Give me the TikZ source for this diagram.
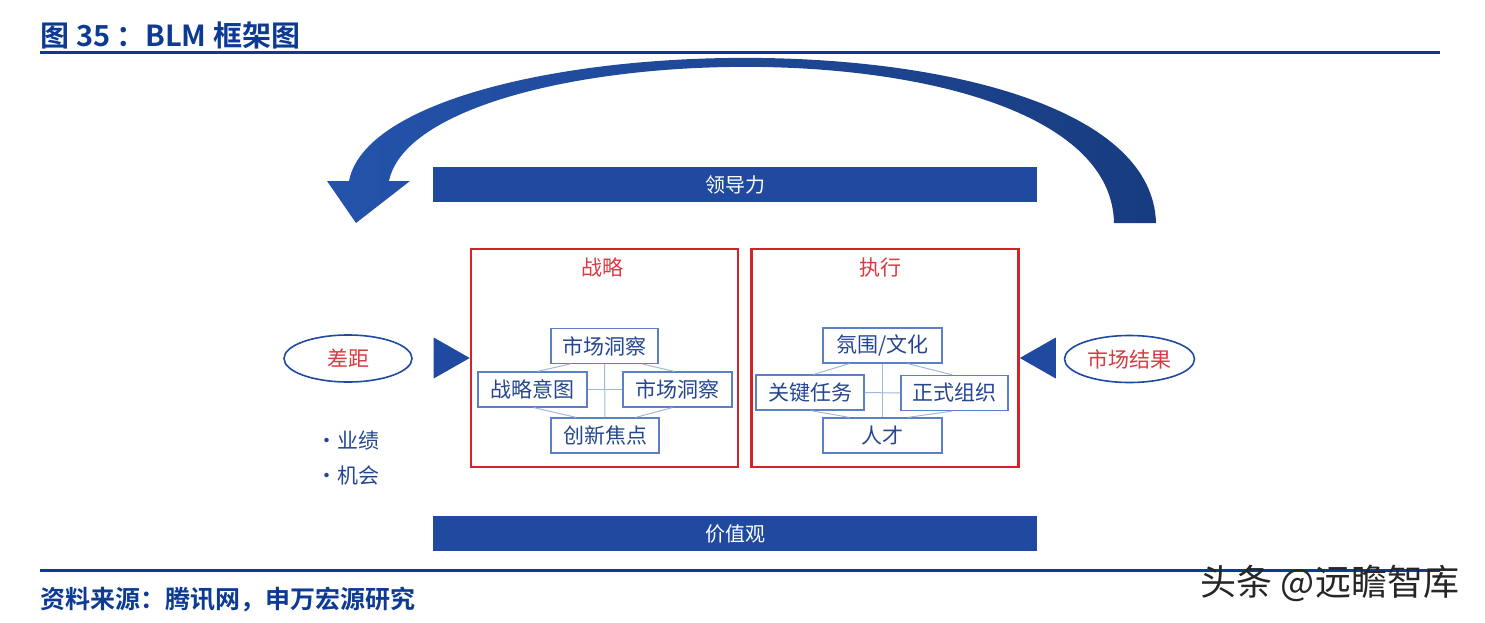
\documentclass[tikz,border=0pt]{standalone}
\usepackage{fontspec}
\setmainfont{Noto Sans CJK SC}[BoldFont={* Bold}]
\usetikzlibrary{positioning, calc, shapes}
\definecolor{titleblue}{HTML}{0D3B94}
\definecolor{barblue}{HTML}{1F4AA0}
\definecolor{arrowl}{HTML}{2453AB}
\definecolor{arrowr}{HTML}{183C80}
\definecolor{boxred}{HTML}{D2232A}
\definecolor{textred}{HTML}{D83A40}
\definecolor{cellblue}{HTML}{5C80C8}
\definecolor{linkblue}{HTML}{A3B6DD}
\definecolor{celltext}{HTML}{25468F}
\tikzset{bar/.style={fill=barblue, minimum width=604pt, minimum height=35pt, inner sep=0pt, text=white, font=\fontsize{20}{20}\selectfont}}
\tikzset{panel/.style={draw=boxred, line width=2.6pt, minimum width=267pt, minimum height=218pt, inner sep=0pt}}
\tikzset{paneltitle/.style={text=textred, font=\fontsize{21}{21}\selectfont}}
\tikzset{cell/.style={draw=cellblue, line width=1.2pt, fill=white, minimum height=35pt, inner sep=0pt, text=celltext, font=\fontsize{21}{21}\selectfont}}
\tikzset{link/.style={draw=linkblue, line width=1pt}}
\tikzset{gap/.style={ellipse, draw=barblue, line width=1.6pt, minimum width=128pt, minimum height=47pt, inner sep=0pt, text=textred, font=\fontsize{21}{21}\selectfont}}
\tikzset{bullet/.style={anchor=west, text=celltext, font=\fontsize{21}{21}\selectfont}}
\tikzset{rule/.style={draw=titleblue, line width=3pt}}
\begin{document}
\begin{tikzpicture}[x=1pt, y=-1pt]
  \useasboundingbox (0,0) rectangle (1485,623);

  \node[anchor=west, text=titleblue, font=\fontsize{29}{29}\selectfont\bfseries] (title) at (37,35) {图 35\hspace{6pt}：BLM 框架图};
  \draw[rule] (40,53) -- (1440,53);
  \draw[rule] (40,570) -- (1440,570);
  \node[anchor=west, text=titleblue, font=\fontsize{25}{25}\selectfont\bfseries] (source) at (37,599) {资料来源：腾讯网，申万宏源研究};

  \shade[left color=arrowl, right color=arrowr]
    (349,181) .. controls (380,20) and (1150,0) .. (1156,223)
    -- (1114,223) .. controls (1110,12) and (420,32) .. (389,181)
    -- (410,181) -- (356,223) -- (327,181) -- cycle;

  \node[bar] (lead) at (735,184.5) {领导力};
  \node[bar] (value) at ($(lead)+(0,349)$) {价值观};

  \node[panel] (strat) at (604.5,358) {};
  \node[panel] (exec) at (885,358) {};
  \node[paneltitle] (strattitle) at ($(strat.north)+(-2,20)$) {战略};
  \node[paneltitle] (exectitle) at ($(exec.north)+(-5,20)$) {执行};

  \node[cell, minimum width=107pt] (s1) at (604.5,346) {市场洞察};
  \node[cell, minimum width=109pt] (s2) at (532.5,389.5) {战略意图};
  \node[cell, minimum width=109pt] (s3) at (677.5,389.5) {市场洞察};
  \node[cell, minimum width=108pt] (s4) at (605,435.5) {创新焦点};
  \draw[link] (s1) -- (s4);
  \draw[link] (s2) -- (s3);
  \draw[link] ($(s1.south west)+(19,0)$) -- ($(s2.north east)+(-50,0)$);
  \draw[link] ($(s1.south east)+(-16,0)$) -- ($(s3.north west)+(52,0)$);
  \draw[link] ($(s2.south east)+(-54,0)$) -- ($(s4.north west)+(26,0)$);
  \draw[link] ($(s3.south west)+(50,0)$) -- ($(s4.north east)+(-24,0)$);

  \node[cell, minimum width=119pt] (e1) at (882.5,345.5) {氛围/文化};
  \node[cell, minimum width=108pt] (e2) at (810,392.5) {关键任务};
  \node[cell, minimum width=107pt] (e3) at (954.5,393) {正式组织};
  \node[cell, minimum width=119pt] (e4) at (882.5,435.5) {人才};
  \draw[link] (e1) -- (e4);
  \draw[link] (e2) -- (e3);
  \draw[link] ($(e1.south west)+(27,0)$) -- ($(e2.north east)+(-51,0)$);
  \draw[link] ($(e1.south east)+(-35,0)$) -- ($(e3.north west)+(52,0)$);
  \draw[link] ($(e2.south east)+(-54,0)$) -- ($(e4.north west)+(27,0)$);
  \draw[link] ($(e3.south west)+(52,0)$) -- ($(e4.north east)+(-35,0)$);

  \fill[barblue] (strat.west) -- ++(-36,-20.5) -- ++(0,41) -- cycle;
  \fill[barblue] (exec.east) -- ++(36,-20.5) -- ++(0,41) -- cycle;

  \node[gap] (gap) at (348,358.5) {差距};
  \node[gap, minimum width=130pt] (result) at (1129.5,359) {市场结果};

  \node[bullet] (perf) at (313,441) {·业绩};
  \node[bullet] (chance) at ($(perf.west)+(0,35)$) {·机会};

  \node[font=\fontsize{36}{36}\selectfont, text=black!85] (mark) at (1330,583) {头条 @远瞻智库};
\end{tikzpicture}
\end{document}
